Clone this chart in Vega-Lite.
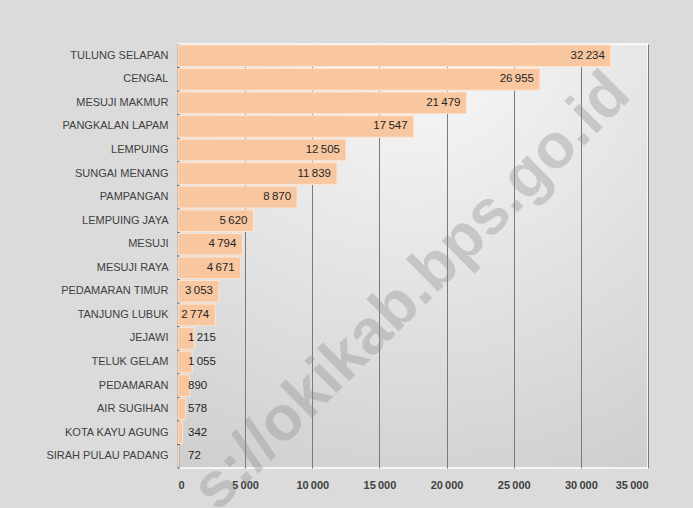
{
  "$schema": "https://vega.github.io/schema/vega-lite/v6.json",
  "width": 470,
  "height": 424,
  "autosize": {"type": "none"},
  "padding": {"left": 178, "top": 44, "right": 45, "bottom": 40},
  "background": "#dbdbdb",
  "config": {
    "locale": {"number": {"decimal": ",", "thousands": "\u2009", "grouping": [3], "currency": ["", ""]}},
    "view": {
      "stroke": "#ffffff",
      "strokeWidth": 1.5,
      "fill": {
        "gradient": "radial",
        "x1": 0.5, "y1": 0, "r1": 0,
        "x2": 0.5, "y2": 0, "r2": 1.1,
        "stops": [{"offset": 0, "color": "#fbfbfb"}, {"offset": 1, "color": "#cdcdcd"}]
      }
    },
    "font": "Liberation Sans"
  },
  "data": {
    "values": [
      {"kecamatan": "TULUNG SELAPAN", "value": 32234},
      {"kecamatan": "CENGAL", "value": 26955},
      {"kecamatan": "MESUJI MAKMUR", "value": 21479},
      {"kecamatan": "PANGKALAN LAPAM", "value": 17547},
      {"kecamatan": "LEMPUING", "value": 12505},
      {"kecamatan": "SUNGAI MENANG", "value": 11839},
      {"kecamatan": "PAMPANGAN", "value": 8870},
      {"kecamatan": "LEMPUING JAYA", "value": 5620},
      {"kecamatan": "MESUJI", "value": 4794},
      {"kecamatan": "MESUJI RAYA", "value": 4671},
      {"kecamatan": "PEDAMARAN TIMUR", "value": 3053},
      {"kecamatan": "TANJUNG LUBUK", "value": 2774},
      {"kecamatan": "JEJAWI", "value": 1215},
      {"kecamatan": "TELUK GELAM", "value": 1055},
      {"kecamatan": "PEDAMARAN", "value": 890},
      {"kecamatan": "AIR SUGIHAN", "value": 578},
      {"kecamatan": "KOTA KAYU AGUNG", "value": 342},
      {"kecamatan": "SIRAH PULAU PADANG", "value": 72}
    ]
  },
  "encoding": {
    "y": {
      "field": "kecamatan",
      "type": "nominal",
      "title": null,
      "scale": {
        "domain": ["TULUNG SELAPAN", "CENGAL", "MESUJI MAKMUR", "PANGKALAN LAPAM", "LEMPUING", "SUNGAI MENANG", "PAMPANGAN", "LEMPUING JAYA", "MESUJI", "MESUJI RAYA", "PEDAMARAN TIMUR", "TANJUNG LUBUK", "JEJAWI", "TELUK GELAM", "PEDAMARAN", "AIR SUGIHAN", "KOTA KAYU AGUNG", "SIRAH PULAU PADANG"],
        "paddingInner": 0.08, "paddingOuter": 0.04
      },
      "axis": {
        "domain": true, "domainColor": "#3a3a3a", "domainWidth": 2,
        "ticks": false, "grid": false,
        "labelFontSize": 11, "labelColor": "#404040", "labelPadding": 10
      }
    }
  },
  "layer": [
    {
      "mark": {"type": "bar", "fill": "#f8c7a0", "stroke": "#fde6d4", "strokeWidth": 1},
      "encoding": {
        "x": {
          "field": "value", "type": "quantitative",
          "scale": {"domain": [0, 35000]},
          "title": null,
          "axis": {
            "values": [0, 5000, 10000, 15000, 20000, 25000, 30000, 35000],
            "format": ",d",
            "grid": true, "gridColor": "#7a7a7a", "gridWidth": 1,
            "domain": false, "ticks": false,
            "labelFontSize": 11, "labelFontWeight": "bold", "labelColor": "#404040",
            "labelPadding": 11
          }
        }
      }
    },
    {
      "transform": [{"filter": "datum.value >= 2500"}],
      "mark": {"type": "text", "align": "right", "dx": -6, "fontSize": 11.5, "color": "#262626"},
      "encoding": {
        "x": {"field": "value", "type": "quantitative"},
        "text": {"field": "value", "type": "quantitative", "format": ",d"}
      }
    },
    {
      "transform": [{"filter": "datum.value < 2500"}],
      "mark": {"type": "text", "align": "left", "dx": 10, "fontSize": 11.5, "color": "#262626"},
      "encoding": {
        "x": {"datum": 0, "type": "quantitative"},
        "text": {"field": "value", "type": "quantitative", "format": ",d"}
      }
    },
    {
      "data": {"values": [{"wm": "s://okikab.bps.go.id", "wx": 17400, "wy": "PEDAMARAN TIMUR"}]},
      "mark": {"type": "text", "angle": 315, "fontSize": 63, "fontWeight": "bold", "color": "#8c8c8c", "opacity": 0.35, "align": "center", "baseline": "middle"},
      "encoding": {
        "x": {"field": "wx", "type": "quantitative"},
        "y": {"field": "wy", "type": "nominal"},
        "text": {"field": "wm"}
      }
    }
  ]
}
